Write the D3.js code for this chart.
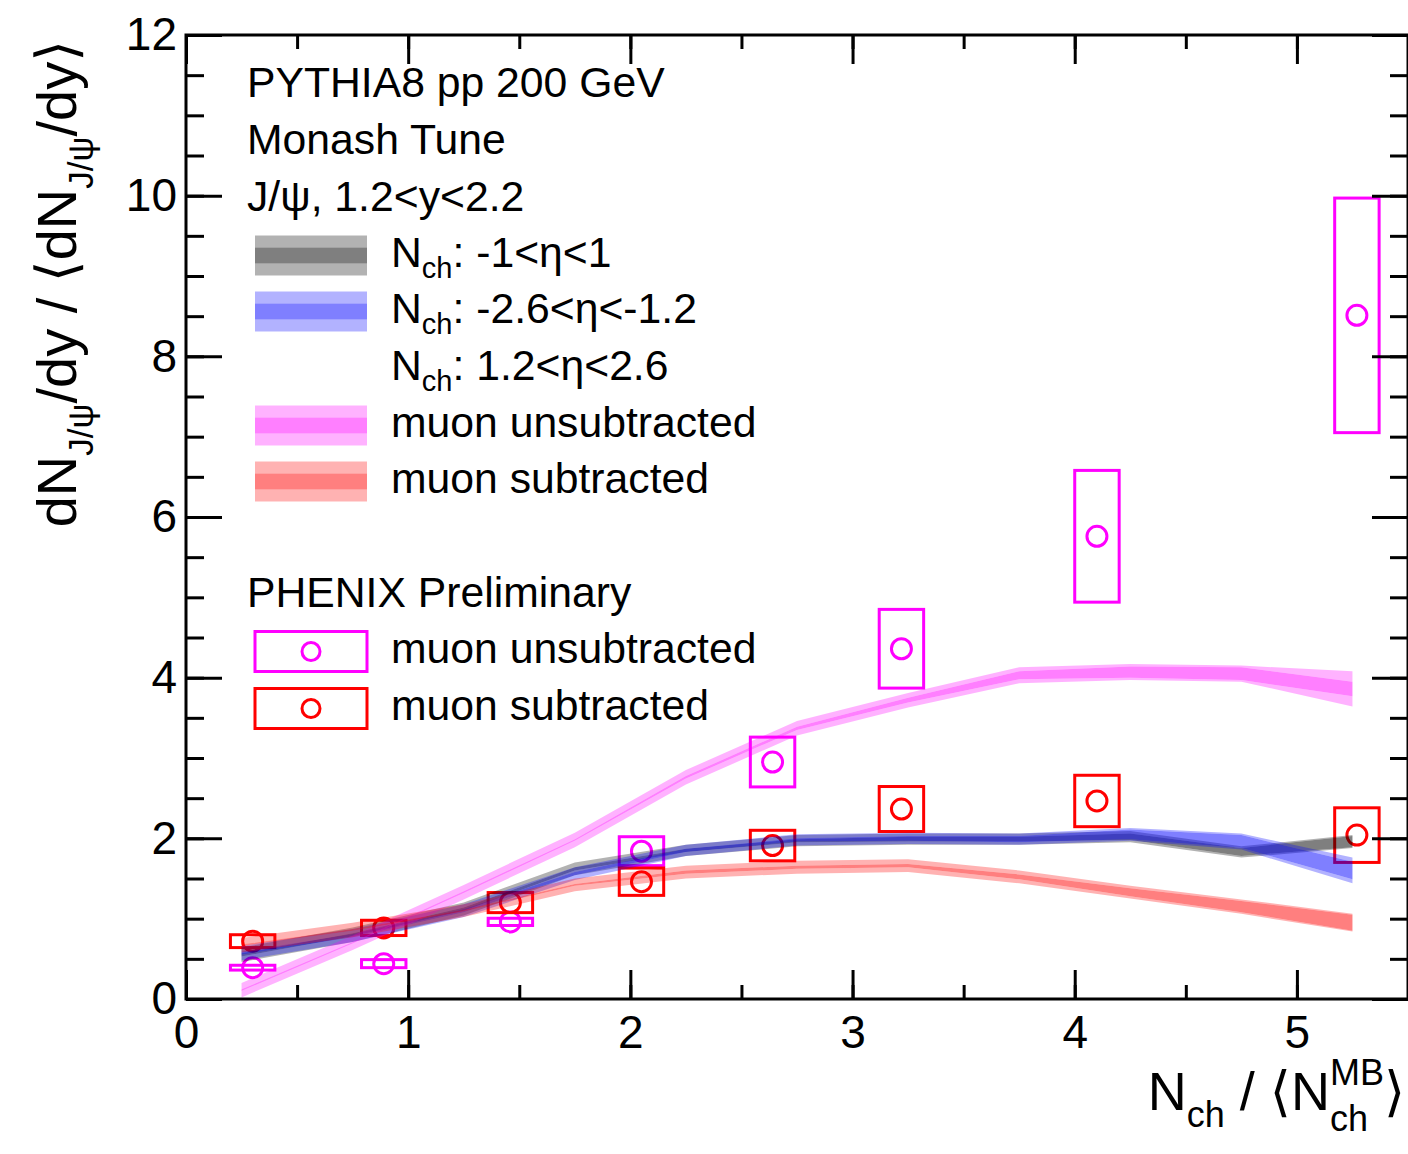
<!DOCTYPE html>
<html>
<head>
<meta charset="utf-8">
<script src="https://cdn.jsdelivr.net/npm/d3@7/dist/d3.min.js"></script>
<style>
  html, body { margin: 0; padding: 0; background: #fff; }
  svg { display: block; }
  text { font-family: "Liberation Sans", Arial, Helvetica, "DejaVu Sans", sans-serif; fill: #000; white-space: pre; }
</style>
</head>
<body>
<svg id="chart" width="1408" height="1154"></svg>
<script>
// ---- PYTHIA8 bands: bin centres in Nch / <Nch^MB>
const bandX = [0.25, 0.75, 1.25, 1.75, 2.25, 2.75, 3.25, 3.75, 4.25, 4.75, 5.25];

// Nch: -1<eta<1
const midMean   = [0.55, 0.80, 1.12, 1.62, 1.85, 1.97, 1.99, 1.99, 2.02, 1.83, 1.96];
const midErrIn  = [0.02, 0.02, 0.02, 0.02, 0.02, 0.02, 0.03, 0.03, 0.04, 0.05, 0.07];
const midErrOut = [0.09, 0.09, 0.08, 0.08, 0.07, 0.07, 0.07, 0.07, 0.07, 0.07, 0.08];
// Nch: -2.6<eta<-1.2
const bwdMean   = [0.57, 0.79, 1.10, 1.56, 1.85, 1.98, 2.00, 1.99, 2.05, 1.96, 1.60];
const bwdErrIn  = [0.02, 0.02, 0.02, 0.02, 0.02, 0.02, 0.03, 0.04, 0.06, 0.08, 0.11];
const bwdErrOut = [0.09, 0.08, 0.08, 0.08, 0.07, 0.07, 0.07, 0.07, 0.08, 0.10, 0.16];
// muon unsubtracted
const unsMean   = [0.11, 0.70, 1.33, 1.98, 2.76, 3.37, 3.72, 4.03, 4.07, 4.05, 3.86];
const unsErrIn  = [0.01, 0.01, 0.01, 0.01, 0.015, 0.02, 0.03, 0.05, 0.07, 0.08, 0.09];
const unsErrOut = [0.09, 0.09, 0.09, 0.09, 0.09, 0.09, 0.09, 0.10, 0.10, 0.10, 0.22];
// muon subtracted
const subMean   = [0.67, 0.86, 1.10, 1.42, 1.58, 1.64, 1.66, 1.52, 1.33, 1.15, 0.95];
const subErrIn  = [0.01, 0.01, 0.01, 0.01, 0.02, 0.02, 0.02, 0.03, 0.05, 0.07, 0.10];
const subErrOut = [0.09, 0.09, 0.08, 0.08, 0.08, 0.08, 0.08, 0.08, 0.08, 0.09, 0.11];

// ---- PHENIX Preliminary points
const phxX       = [0.30, 0.89, 1.46, 2.05, 2.64, 3.22, 4.10, 5.27];
const phxXHalf   = 0.10;
const phxUnsY    = [0.39, 0.44, 0.96, 1.84, 2.95, 4.36, 5.76, 8.51];
const phxUnsSys  = [0.03, 0.05, 0.045, 0.18, 0.31, 0.49, 0.82, 1.46];
const phxSubY    = [0.72, 0.885, 1.20, 1.46, 1.91, 2.365, 2.465, 2.04];
const phxSubSys  = [0.08, 0.095, 0.125, 0.17, 0.19, 0.28, 0.32, 0.34];

// ---- axes
const xDomain = [0, 5.5];
const yDomain = [0, 12];
const xMajor = [0, 1, 2, 3, 4, 5];
const xMinor = d3.range(0, 5.51, 0.5);
const yMajor = [0, 2, 4, 6, 8, 10, 12];
const yMinor = d3.range(0, 12.01, 0.5);

const L = 186, R = 1408, T = 35, B = 999;
const svg = d3.select('#chart');
const x = d3.scaleLinear().domain(xDomain).range([L, R]);
const y = d3.scaleLinear().domain(yDomain).range([B, T]);

const LABEL = 46, LEG = 42.7;

// PHENIX boxes and markers (drawn first, bands overlay them)
function drawPhenix(ys, sys, color) {
  const g = svg.append('g');
  g.selectAll('rect').data(phxX).join('rect')
    .attr('x', (d) => x(d - phxXHalf))
    .attr('width', (d) => x(d + phxXHalf) - x(d - phxXHalf))
    .attr('y', (d, i) => y(ys[i] + sys[i]))
    .attr('height', (d, i) => y(ys[i] - sys[i]) - y(ys[i] + sys[i]))
    .attr('fill', 'none').attr('stroke', color).attr('stroke-width', 3);
  g.selectAll('circle').data(phxX).join('circle')
    .attr('cx', (d) => x(d)).attr('cy', (d, i) => y(ys[i]))
    .attr('r', 10).attr('fill', 'none').attr('stroke', color).attr('stroke-width', 3);
}
drawPhenix(phxUnsY, phxUnsSys, '#ff00ff');
drawPhenix(phxSubY, phxSubSys, '#ff0000');

// PYTHIA bands: light outer band split around a darker inner band
function drawBand(mean, eIn, eOut, color) {
  const pts = bandX.map((v, i) => ({ x: v, m: mean[i], a: eIn[i], b: Math.max(eOut[i], eIn[i]) }));
  const g = svg.append('g');
  const area = (lo, hi) => d3.area().x((d) => x(d.x)).y0((d) => y(lo(d))).y1((d) => y(hi(d)))(pts);
  g.append('path').attr('d', area((d) => d.m + d.a, (d) => d.m + d.b)).attr('fill', color).attr('fill-opacity', 0.3);
  g.append('path').attr('d', area((d) => d.m - d.b, (d) => d.m - d.a)).attr('fill', color).attr('fill-opacity', 0.3);
  g.append('path').attr('d', area((d) => d.m - d.a, (d) => d.m + d.a)).attr('fill', color).attr('fill-opacity', 0.5);
}
drawBand(midMean, midErrIn, midErrOut, '#000000');
drawBand(bwdMean, bwdErrIn, bwdErrOut, '#0000ff');
drawBand(unsMean, unsErrIn, unsErrOut, '#ff00ff');
drawBand(subMean, subErrIn, subErrOut, '#ff0000');

// axes with inward ticks on all four sides
function styleAxis(g) {
  g.select('.domain').remove();
  g.selectAll('.tick line').attr('stroke', '#000').attr('stroke-width', 3);
  g.selectAll('.tick text').style('font-size', LABEL + 'px').attr('fill', '#000');
}
const fmt = d3.format('d');
svg.append('g').attr('transform', `translate(0,${B})`)
  .call(d3.axisBottom(x).tickValues(xMinor).tickSize(-14).tickFormat(''))
  .call(styleAxis);
svg.append('g').attr('transform', `translate(0,${B})`)
  .call(d3.axisBottom(x).tickValues(xMajor).tickSize(-29).tickPadding(16).tickFormat(fmt))
  .call(styleAxis);
svg.append('g').attr('transform', `translate(0,${T})`)
  .call(d3.axisTop(x).tickValues(xMinor).tickSize(-14).tickFormat(''))
  .call(styleAxis);
svg.append('g').attr('transform', `translate(0,${T})`)
  .call(d3.axisTop(x).tickValues(xMajor).tickSize(-29).tickFormat(''))
  .call(styleAxis);
svg.append('g').attr('transform', `translate(${L},0)`)
  .call(d3.axisLeft(y).tickValues(yMinor).tickSize(-18).tickFormat(''))
  .call(styleAxis);
svg.append('g').attr('transform', `translate(${L},0)`)
  .call(d3.axisLeft(y).tickValues(yMajor).tickSize(-36).tickPadding(9).tickFormat(fmt))
  .call(styleAxis);
svg.append('g').attr('transform', `translate(${R},0)`)
  .call(d3.axisRight(y).tickValues(yMinor).tickSize(-18).tickFormat(''))
  .call(styleAxis);
svg.append('g').attr('transform', `translate(${R},0)`)
  .call(d3.axisRight(y).tickValues(yMajor).tickSize(-36).tickFormat(''))
  .call(styleAxis);

svg.append('rect').attr('x', L).attr('y', T).attr('width', R - L).attr('height', B - T)
  .attr('fill', 'none').attr('stroke', '#000').attr('stroke-width', 3);

// rich text: sequence of pieces with sub/superscripts
function rich(parent, pieces) {
  let cx = 0;
  pieces.forEach((p) => {
    const parts = p.stack || [p];
    let w = 0;
    parts.forEach((q) => {
      const t = parent.append('text').attr('x', cx).attr('y', q.dy || 0)
        .style('font-size', q.size + 'px').text(q.t);
      w = Math.max(w, t.node().getComputedTextLength());
    });
    cx += w;
  });
  return cx;
}

// axis titles
const XT = 54, XS = 36;
const xg = svg.append('g');
const xw = rich(xg, [
  { t: 'N', size: XT },
  { t: 'ch', size: XS, dy: 17 },
  { t: ' / \u27E8N', size: XT },
  { stack: [{ t: 'MB', size: XS, dy: -25 }, { t: 'ch', size: XS, dy: 21 }] },
  { t: '\u27E9', size: XT },
]);
xg.attr('transform', `translate(${1405 - xw},1110)`);

const YT = 56, YS = 35;
const yg = svg.append('g');
const yw = rich(yg, [
  { t: 'dN', size: YT },
  { t: 'J/\u03C8', size: YS, dy: 17 },
  { t: '/dy / \u27E8dN', size: YT },
  { t: 'J/\u03C8', size: YS, dy: 17 },
  { t: '/dy\u27E9', size: YT },
]);
yg.attr('transform', `translate(76,${40 + yw}) rotate(-90)`);

// header lines
const headers = ['PYTHIA8 pp 200 GeV', 'Monash Tune', 'J/\u03C8, 1.2<y<2.2'];
const headerY = [97, 154, 211];
headers.forEach((h, i) => {
  svg.append('text').attr('x', 247).attr('y', headerY[i]).style('font-size', LEG + 'px').text(h);
});

// PYTHIA legend
const legRows = [
  { label: [['N', 0], ['ch', 1], [': -1<\u03B7<1', 0]], color: '#000000' },
  { label: [['N', 0], ['ch', 1], [': -2.6<\u03B7<-1.2', 0]], color: '#0000ff' },
  { label: [['N', 0], ['ch', 1], [': 1.2<\u03B7<2.6', 0]], color: null },
  { label: [['muon unsubtracted', 0]], color: '#ff00ff' },
  { label: [['muon subtracted', 0]], color: '#ff0000' },
];
const legBase = [267, 323, 380, 437, 493];
legRows.forEach((r, i) => {
  const cy = legBase[i] - 11.5;
  if (r.color) {
    svg.append('rect').attr('x', 255).attr('width', 112).attr('y', cy - 20).attr('height', 40)
      .attr('fill', r.color).attr('fill-opacity', 0.3);
    svg.append('rect').attr('x', 255).attr('width', 112).attr('y', cy - 8).attr('height', 16)
      .attr('fill', '#fff');
    svg.append('rect').attr('x', 255).attr('width', 112).attr('y', cy - 8).attr('height', 16)
      .attr('fill', r.color).attr('fill-opacity', 0.5);
  }
  const g = svg.append('g').attr('transform', `translate(391,${legBase[i]})`);
  rich(g, r.label.map(([t, s]) => (s ? { t, size: 29, dy: 11 } : { t, size: LEG })));
});

// PHENIX legend
svg.append('text').attr('x', 247).attr('y', 607).style('font-size', LEG + 'px').text('PHENIX Preliminary');
const phxLeg = [
  { label: 'muon unsubtracted', color: '#ff00ff', base: 663 },
  { label: 'muon subtracted', color: '#ff0000', base: 720 },
];
phxLeg.forEach((r) => {
  const cy = r.base - 11.5;
  svg.append('rect').attr('x', 255).attr('width', 112).attr('y', cy - 20).attr('height', 40)
    .attr('fill', 'none').attr('stroke', r.color).attr('stroke-width', 3);
  svg.append('circle').attr('cx', 311).attr('cy', cy).attr('r', 9)
    .attr('fill', 'none').attr('stroke', r.color).attr('stroke-width', 3);
  svg.append('text').attr('x', 391).attr('y', r.base).style('font-size', LEG + 'px').text(r.label);
});
</script>
</body>
</html>
